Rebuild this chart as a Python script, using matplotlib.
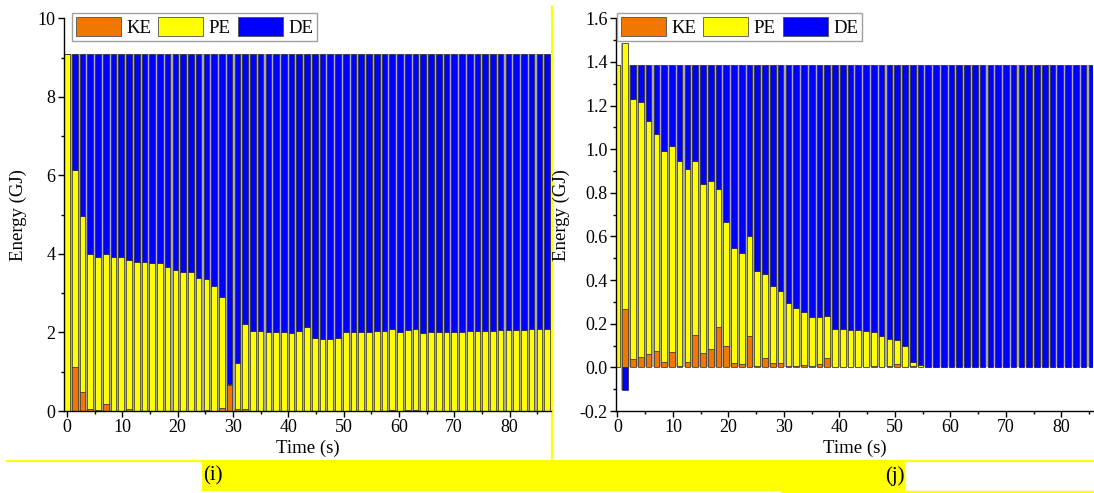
import matplotlib
matplotlib.use("Agg")
import matplotlib.pyplot as plt
import numpy as np
from matplotlib.patches import Rectangle, Patch
from matplotlib.ticker import MultipleLocator, FormatStrFormatter

plt.rcParams['font.family'] = ['Liberation Serif', 'DejaVu Serif']

# ---- dati (i) ----
STEP = 1.4
N_BARS = 63
time_i = np.arange(N_BARS) * STEP
total_i = 9.08
ke_i = [0.0, 1.13, 0.49, 0.04, 0.03, 0.17, 0.0, 0.0, 0.05, 0.0,
        0.0, 0.0, 0.0, 0.0, 0.0, 0.0, 0.0, 0.0, 0.03, 0.0,
        0.07, 0.67, 0.04, 0.06, 0.0, 0.0, 0.0, 0.0, 0.0, 0.0,
        0.01, 0.0, 0.0, 0.0, 0.0, 0.0, 0.0, 0.0, 0.0, 0.0,
        0.0, 0.0, 0.03, 0.0, 0.02, 0.02, 0.0, 0.0, 0.0, 0.0,
        0.0, 0.0, 0.0, 0.0, 0.0, 0.0, 0.0, 0.0, 0.0, 0.0,
        0.0, 0.0, 0.0]
# somma KE+PE (top della parte gialla)
top_i = [9.08, 6.13, 4.97, 4.01, 3.93, 4.01, 3.91, 3.92, 3.84, 3.80,
         3.80, 3.77, 3.76, 3.67, 3.60, 3.53, 3.53, 3.39, 3.37, 3.19,
         2.91, 0.68, 1.23, 2.21, 2.04, 2.03, 2.02, 2.00, 2.01, 1.99,
         2.04, 2.13, 1.87, 1.84, 1.83, 1.87, 2.02, 2.02, 2.02, 2.02,
         2.03, 2.04, 2.08, 2.02, 2.07, 2.09, 1.99, 2.00, 2.01, 2.01,
         2.02, 2.02, 2.03, 2.03, 2.04, 2.04, 2.05, 2.06, 2.06, 2.07,
         2.08, 2.08, 2.08]

# ---- dati (j) ----
time_j = np.arange(N_BARS) * STEP
total_j = 1.384
ke_j = [0.0, 0.267, 0.037, 0.046, 0.060, 0.074, 0.023, 0.069, 0.008, 0.023,
        0.147, 0.067, 0.083, 0.184, 0.097, 0.018, 0.014, 0.144, 0.008, 0.042,
        0.020, 0.020, 0.008, 0.004, 0.012, 0.004, 0.017, 0.045, 0.0, 0.0,
        0.0, 0.0, 0.003, 0.006, 0.003, 0.005, 0.016, 0.003, 0.005, 0.003] + [0.002] * 23
top_j = [1.385, 1.488, 1.232, 1.217, 1.128, 1.070, 0.990, 1.016, 0.944, 0.909,
         0.944, 0.841, 0.853, 0.818, 0.666, 0.547, 0.524, 0.600, 0.440, 0.430,
         0.371, 0.351, 0.297, 0.271, 0.254, 0.230, 0.229, 0.235, 0.175, 0.175,
         0.172, 0.172, 0.167, 0.161, 0.146, 0.130, 0.124, 0.100, 0.026, 0.011] + [0.002] * 23

C_KE = '#F07800'
C_PE = '#FFFF00'
C_DE = '#0000FF'

W, H = 1094, 493
fig = plt.figure(figsize=(W / 100, H / 100), dpi=100)

# sfondo con le bande gialle del documento
bg = fig.add_axes([0, 0, 1, 1], zorder=-5)
bg.set_xlim(0, W)
bg.set_ylim(H, 0)
bg.axis('off')
bg.add_patch(Rectangle((202, 460), 703, 31, color=C_PE, lw=0))
bg.plot([7, 202], [461, 461], color=C_PE, lw=1.6)
bg.plot([905, 1094], [461, 461], color=C_PE, lw=1.6)
bg.plot([782, 1094], [491.5, 491.5], color=C_PE, lw=1.6)
bg.plot([552, 552], [7, 460], color=C_PE, lw=1.6)
bg.text(203, 476, '(i)', fontsize=15, ha='left', va='center')
bg.text(905, 476, '(j)', fontsize=15, ha='right', va='center')


def stacked(ax, t, ke, top, total):
    ke = np.array(ke)
    top = np.array(top)
    pe = top - ke
    de = total - top
    de[0] = 0.0 if top[0] >= total else de[0]
    de_bottom = np.where(de >= 0, top, 0.0)
    upper = np.maximum(top, de_bottom + np.maximum(de, 0))
    lower = np.minimum(0, de)
    # grigio tra le barre
    ax.bar(t, upper - lower, bottom=lower, width=STEP, color='#a8a8a8', lw=0, zorder=1)
    kw = dict(width=1.02, edgecolor='#303030', linewidth=0.5, zorder=2)
    ax.bar(t, ke, color=C_KE, **kw)
    ax.bar(t, pe, bottom=ke, color=C_PE, **kw)
    ax.bar(t, de, bottom=de_bottom, color=C_DE, **kw)


def style(ax, ymaj, ymin):
    for s in ['top', 'right']:
        ax.spines[s].set_visible(False)
    for s in ['left', 'bottom']:
        ax.spines[s].set_linewidth(1.0)
    ax.xaxis.set_major_locator(MultipleLocator(10))
    ax.xaxis.set_minor_locator(MultipleLocator(5))
    ax.yaxis.set_major_locator(MultipleLocator(ymaj))
    ax.yaxis.set_minor_locator(MultipleLocator(ymin))
    ax.tick_params(which='major', direction='out', length=4, width=1.0, labelsize=13, pad=2)
    ax.tick_params(which='minor', direction='out', length=2.5, width=1.0)
    ax.set_xlabel('Time (s)', fontsize=13.5)
    ax.set_ylabel('Energy (GJ)', fontsize=13.5)
    handles = [Patch(facecolor=C_KE, edgecolor='#505050', lw=0.6),
               Patch(facecolor=C_PE, edgecolor='#505050', lw=0.6),
               Patch(facecolor=C_DE, edgecolor='#505050', lw=0.6)]
    return handles


def fig_rect(x0, x1, y0, y1):
    return [x0 / W, 1 - y1 / H, (x1 - x0) / W, (y1 - y0) / H]


legend_kw = dict(ncol=3, loc='upper left', fontsize=13.5, handlelength=2.4,
                 handleheight=1.2, handletextpad=0.3, columnspacing=0.35,
                 borderpad=0.22, borderaxespad=0, fancybox=False,
                 edgecolor='#a0a0a0', framealpha=1)

ax1 = fig.add_axes(fig_rect(64, 551, 18.3, 411))
stacked(ax1, time_i, ke_i, top_i, total_i)
ax1.set_xlim(-0.54, 87.5)
ax1.set_ylim(0, 10)
h = style(ax1, 2, 1)
ax1.yaxis.set_label_coords(-37 / 487, 0.5)
ax1.xaxis.set_label_coords(0.5, -0.074)
ax1.legend(h, ['KE', 'PE', 'DE'], bbox_to_anchor=(72 / W, 1 - 13 / H),
           bbox_transform=fig.transFigure, **legend_kw)

ax2 = fig.add_axes(fig_rect(616, 1093, 18.3, 411))
stacked(ax2, time_j, ke_j, top_j, total_j)
ax2.set_xlim(-0.27, 85.7)
ax2.set_ylim(-0.2, 1.6)
h = style(ax2, 0.2, 0.1)
ax2.yaxis.set_major_formatter(FormatStrFormatter('%.1f'))
ax2.yaxis.set_label_coords(-46 / 477, 0.5)
ax2.xaxis.set_label_coords(0.5, -0.074)
ax2.legend(h, ['KE', 'PE', 'DE'], bbox_to_anchor=(617 / W, 1 - 13 / H),
           bbox_transform=fig.transFigure, **legend_kw)

fig.savefig('out.png', dpi=100)
